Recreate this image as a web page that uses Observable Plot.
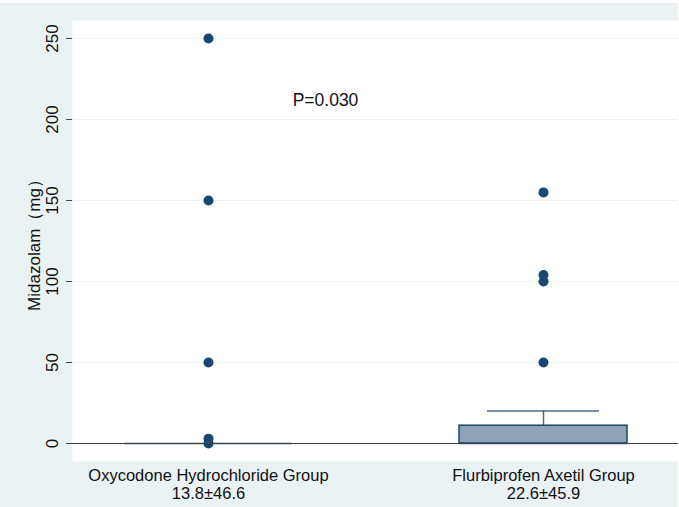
<!DOCTYPE html>
<html>
<head>
<meta charset="utf-8">
<script src="https://cdn.jsdelivr.net/npm/d3@7"></script>
<script src="https://cdn.jsdelivr.net/npm/@observablehq/plot@0.6"></script>
<style>
  html, body { margin: 0; padding: 0; background: #ffffff; }
  #chart { padding-top: 3px; }
  svg { display: block; }
</style>
</head>
<body>
<div id="chart"></div>
<script>
const groups = ["Oxycodone Hydrochloride Group", "Flurbiprofen Axetil Group"];
const groupStats = ["13.8±46.6", "22.6±45.9"];
const q1 = [0, 0];
const median = [0, 0];
const q3 = [0, 11];
const whiskerLow = [0, 0];
const whiskerHigh = [0, 20];
const outliers1 = [0, 3, 50, 150, 250];
const outliers2 = [50, 100, 104, 155];
const yTicks = [0, 50, 100, 150, 200, 250];
const pText = "P=0.030";

const boxes = groups.map((g, i) => ({group: g, q1: q1[i], median: median[i], q3: q3[i], lo: whiskerLow[i], hi: whiskerHigh[i]}));
const points = [
  ...outliers1.map(v => ({group: groups[0], value: v})),
  ...outliers2.map(v => ({group: groups[1], value: v}))
];
const whiskers = boxes.filter(d => d.hi > d.q3);

const navy = "#1a476f";
const bg = "#eaf2f3";
const font = "Liberation Sans, Arial, sans-serif";

const chart = Plot.plot({
  width: 678,
  height: 504,
  marginLeft: 72,
  marginRight: 0,
  marginTop: 17,
  marginBottom: 46,
  style: {background: bg, fontFamily: font, color: "#111"},
  x: {type: "band", domain: groups, paddingInner: 0.5, paddingOuter: 0.153, label: null},
  y: {domain: [-11.1, 261.1], label: null},
  marks: [
    Plot.frame({fill: "white", stroke: null}),
    Plot.ruleY(yTicks, {stroke: bg, strokeWidth: 1}),
    Plot.ruleX(whiskers, {x: "group", y1: "q3", y2: "hi", stroke: navy, strokeOpacity: 0.8, strokeWidth: 1.5}),
    Plot.tickY(whiskers, {x: "group", y: "hi", stroke: navy, strokeOpacity: 0.8, strokeWidth: 1.5, insetLeft: 28, insetRight: 28}),
    Plot.rect(boxes, {x: "group", y1: "q1", y2: "q3", fill: "#8fa2b6", stroke: navy, strokeWidth: 1.5}),
    Plot.tickY(boxes, {x: "group", y: "median", stroke: navy, strokeWidth: 1.5}),
    Plot.dot(points, {x: "group", y: "value", r: 5, fill: navy, stroke: null}),
    Plot.text([pText], {x: () => groups[0], y: () => 212, text: d => d, dx: 117, fontSize: 17.5, fill: "#111", textAnchor: "middle"}),
    Plot.axisY({ticks: yTicks, tickSize: 6, tickPadding: 9, fontSize: 17, tickRotate: -90, stroke: "#444", fill: "#111",
      label: "Midazolam（mg）", labelAnchor: "center", labelArrow: "none", labelOffset: 45}),
    Plot.axisX({tickSize: 0, tickPadding: 6, fontSize: 16.5, fill: "#111", lineHeight: 1.12,
      tickFormat: (d, i) => d + "\n" + groupStats[groups.indexOf(d)], label: null}),
    Plot.ruleX([0], {frameAnchor: "left", stroke: "#444", strokeWidth: 1.2}),
    Plot.ruleY([0], {frameAnchor: "bottom", stroke: "#444", strokeWidth: 1.2})
  ]
});
document.getElementById("chart").appendChild(chart);
</script>
</body>
</html>
